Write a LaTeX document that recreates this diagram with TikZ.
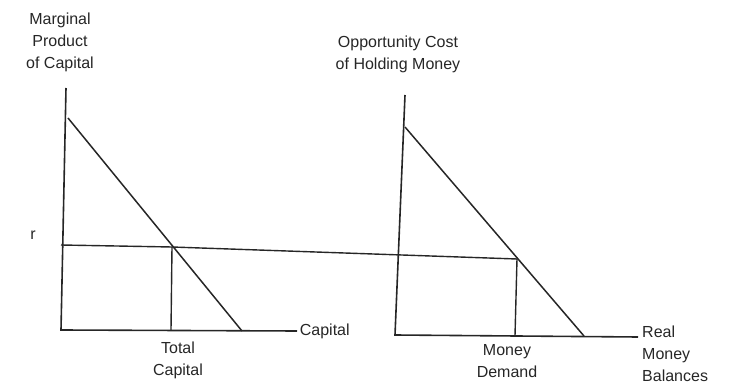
\documentclass[tikz,border=0pt]{standalone}
\usepackage{fontspec}
\setmainfont{Liberation Sans}
\begin{document}
\begin{tikzpicture}[x=1pt,y=-1pt,
  axisline/.style={line width=1.6pt,black!85},
  curve/.style={line width=1.5pt,black!85},
  guide/.style={line width=1.4pt,black!85},
  lbl/.style={font=\fontsize{16}{22}\selectfont,align=center,inner sep=0pt,text=black!85}]
\useasboundingbox (0,0) rectangle (737,390);
% left panel
\coordinate (LT) at (66,88);
\coordinate (LO) at (61,330);
\coordinate (LX) at (297,331);
\coordinate (LDs) at (68,118);
\coordinate (LDe) at (242,331);
\coordinate (LI) at (172,247);
\coordinate (LIb) at (171,330);
% right panel
\coordinate (RT) at (405,95);
\coordinate (RO) at (395,335);
\coordinate (RX) at (638,337);
\coordinate (RDs) at (405,127);
\coordinate (RDe) at (584,336);
\coordinate (RI) at (517,259);
\coordinate (RIb) at (515,336);
\coordinate (Rs) at (61,245);
\draw[axisline] (LT) -- (LO) -- (LX);
\draw[axisline] (RT) -- (RO) -- (RX);
\draw[curve] (LDs) -- (LDe);
\draw[curve] (RDs) -- (RDe);
\draw[guide] (Rs) -- (LI) -- (RI);
\draw[guide] (LI) -- (LIb);
\draw[guide] (RI) -- (RIb);
% labels
\node[lbl] (ylab1) at (60,42) {Marginal\\Product\\of Capital};
\node[lbl] (ylab2) at (398,54) {Opportunity Cost\\of Holding Money};
\node[lbl] (rlab) at (33,235) {r};
\node[lbl,anchor=west] (xlab1) at (LX) {\,Capital};
\node[lbl,anchor=north] (tc) at (178,342) {Total\\Capital};
\node[lbl,anchor=north] (md) at (507,344) {Money\\Demand};
\node[lbl,anchor=north west,align=left] (xlab2) at (642,326) {Real\\Money\\Balances};
\end{tikzpicture}
\end{document}
